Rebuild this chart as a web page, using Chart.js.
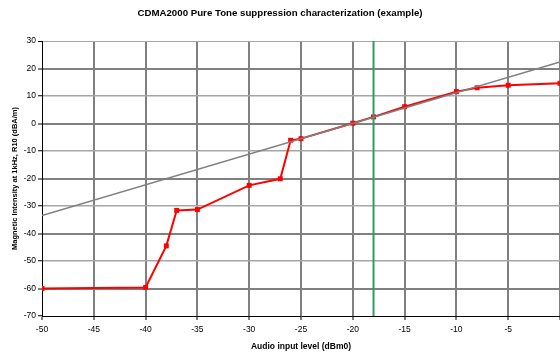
<!DOCTYPE html>
<html>
<head>
<meta charset="utf-8">
<script src="https://cdn.jsdelivr.net/npm/chart.js@4/dist/chart.umd.min.js"></script>
<style>
    html, body { margin: 0; padding: 0; background: #fff; }
    canvas { display: block; }
</style>
</head>
<body>
<canvas id="chart" width="560" height="352"></canvas>
<script>
// measured series (audio input level dBm0 -> magnetic intensity dBA/m)
const inputLevels = [-50, -40, -38, -37, -35, -30, -27, -26, -25, -20, -18, -15, -10, -8, -5, 0];
const intensities = [-60, -59.6, -44.5, -31.6, -31.3, -22.5, -20.1, -6.1, -5.5, 0.1, 2.4, 6.1, 11.6, 13, 13.9, 14.6];

// ideal straight reference line, two ends
const refLevels = [-50, 0];
const refValues = [-33.5, 22.4];

// green marker at -18 dBm0
const markerLevels = [-18, -18];
const markerValues = [-70, 30];

const chartTitle = 'CDMA2000 Pure Tone suppression characterization (example)';
const xTitle = 'Audio input level (dBm0)';
const yTitle = 'Magnetic Intensity at 1kHz, R10 (dBA/m)';

const toPoints = (xs, ys) => xs.map((x, i) => ({ x: x, y: ys[i] }));

const font = 'Liberation Sans, Arial, sans-serif';

new Chart(document.getElementById('chart').getContext('2d'), {
    type: 'line',
    data: {
        datasets: [
            {
                data: toPoints(refLevels, refValues),
                borderColor: '#808080',
                borderWidth: 1.5,
                pointRadius: 0
            },
            {
                data: toPoints(markerLevels, markerValues),
                borderColor: '#339966',
                borderWidth: 2,
                pointRadius: 0
            },
            {
                data: toPoints(inputLevels, intensities),
                borderColor: '#ff0000',
                backgroundColor: '#ff0000',
                borderWidth: 2,
                pointStyle: 'rect',
                pointRadius: 3.5,
                pointBorderWidth: 0
            }
        ]
    },
    options: {
        responsive: false,
        animation: false,
        layout: { autoPadding: false, padding: 0 },
        plugins: {
            legend: { display: false },
            tooltip: { enabled: false },
            title: {
                display: true,
                text: chartTitle,
                color: '#000',
                font: { family: font, size: 9.7, weight: 'bold', lineHeight: 1.2 },
                padding: { top: 8, bottom: 21.36 }
            }
        },
        scales: {
            x: {
                type: 'linear',
                min: -50,
                max: 0,
                afterFit: scale => {
                    scale.height = 36;
                    scale.paddingRight = 0;
                    scale.paddingLeft = 0;
                },
                ticks: {
                    stepSize: 5,
                    color: '#000',
                    padding: 5,
                    maxRotation: 0,
                    font: { family: font, size: 8.5 },
                    callback: v => v === 0 ? '' : v
                },
                grid: {
                    color: c => c.tick && c.tick.value === -50 ? 'rgba(0,0,0,0)' : '#808080',
                    lineWidth: 2,
                    tickColor: '#000',
                    tickWidth: 1,
                    tickLength: 4
                },
                border: { color: '#000', width: 1 },
                title: {
                    display: true,
                    text: xTitle,
                    color: '#000',
                    font: { family: font, size: 8.5, weight: 'bold' },
                    padding: { top: 0, bottom: 0 }
                }
            },
            y: {
                min: -70,
                max: 30,
                afterFit: scale => { scale.width = 42; },
                ticks: {
                    stepSize: 10,
                    color: '#000',
                    padding: 2,
                    font: { family: font, size: 8.5 }
                },
                grid: {
                    color: c => {
                        if (!c.tick || c.tick.value === -70) return 'rgba(0,0,0,0)';
                        return c.tick.value % 20 === 0 ? '#808080' : '#a6a6a6';
                    },
                    lineWidth: c => {
                        if (!c.tick) return 1;
                        if (c.tick.value === 30) return 1;
                        return c.tick.value % 20 === 0 ? 2 : 1.5;
                    },
                    tickColor: '#000',
                    tickWidth: 1,
                    tickLength: 4
                },
                border: { color: '#000', width: 1 },
                title: {
                    display: true,
                    text: yTitle,
                    color: '#000',
                    font: { family: font, size: 7.5, weight: 'bold' },
                    padding: { top: 10, bottom: 0 }
                }
            }
        }
    }
});
</script>
</body>
</html>
